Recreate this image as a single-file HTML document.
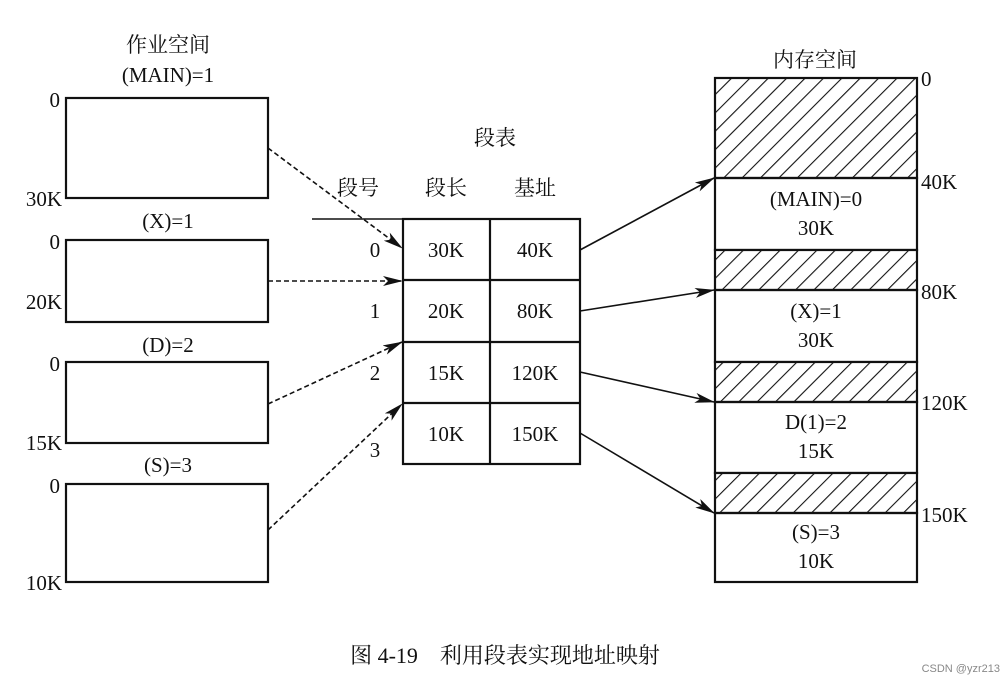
<!DOCTYPE html>
<html><head><meta charset="utf-8"><style>
html,body{margin:0;padding:0;background:#fff}
svg text{font-family:"Liberation Serif","Noto Serif CJK SC",serif;fill:#111}
</style></head><body>
<svg width="1008" height="686" viewBox="0 0 1008 686" xmlns="http://www.w3.org/2000/svg">
<defs>
<pattern id="h" width="13" height="13" patternUnits="userSpaceOnUse" patternTransform="rotate(45)">
<rect width="13" height="13" fill="#fff"/><line x1="0" y1="0" x2="0" y2="13" stroke="#111" stroke-width="2.2"/>
</pattern>
<marker id="a" markerWidth="20" markerHeight="10" refX="19" refY="5" orient="auto" markerUnits="userSpaceOnUse">
<path d="M0,0 L20,5 L0,10 L5,5 Z" fill="#111"/></marker>
</defs>
<g stroke="#111" stroke-width="2.2" fill="none">
<rect x="66" y="98" width="202" height="100"/>
<rect x="66" y="240" width="202" height="82"/>
<rect x="66" y="362" width="202" height="81"/>
<rect x="66" y="484" width="202" height="98"/>
<rect x="403" y="219" width="177" height="245"/>
<line x1="490" y1="219" x2="490" y2="464"/>
<line x1="403" y1="280" x2="580" y2="280"/>
<line x1="403" y1="342" x2="580" y2="342"/>
<line x1="403" y1="403" x2="580" y2="403"/>
<line x1="312" y1="219" x2="403" y2="219" stroke-width="1.5"/>
<rect x="715" y="78" width="202" height="100" fill="url(#h)"/>
<rect x="715" y="178" width="202" height="72"/>
<rect x="715" y="250" width="202" height="40" fill="url(#h)"/>
<rect x="715" y="290" width="202" height="72"/>
<rect x="715" y="362" width="202" height="40" fill="url(#h)"/>
<rect x="715" y="402" width="202" height="71"/>
<rect x="715" y="473" width="202" height="40" fill="url(#h)"/>
<rect x="715" y="513" width="202" height="69"/>
</g>
<g stroke="#111" stroke-width="1.6" stroke-dasharray="5,3" fill="none">
<line x1="268" y1="148" x2="402" y2="248" marker-end="url(#a)"/>
<line x1="268" y1="281" x2="402" y2="281" marker-end="url(#a)"/>
<line x1="268" y1="404" x2="402" y2="342" marker-end="url(#a)"/>
<line x1="268" y1="530" x2="402" y2="404" marker-end="url(#a)"/>
</g>
<g stroke="#111" stroke-width="1.6" fill="none">
<line x1="580" y1="250" x2="714" y2="178" marker-end="url(#a)"/>
<line x1="580" y1="311" x2="714" y2="290" marker-end="url(#a)"/>
<line x1="580" y1="372" x2="714" y2="402" marker-end="url(#a)"/>
<line x1="580" y1="433" x2="714" y2="513" marker-end="url(#a)"/>
</g>
<g font-size="21" text-anchor="middle">
<text x="168" y="52">作业空间</text>
<text x="168" y="82">(MAIN)=1</text>
<text x="168" y="228">(X)=1</text>
<text x="168" y="352">(D)=2</text>
<text x="168" y="472">(S)=3</text>
<text x="495" y="145">段表</text>
<text x="358" y="195">段号</text>
<text x="446" y="195">段长</text>
<text x="535" y="195">基址</text>
<text x="375" y="257">0</text>
<text x="375" y="318">1</text>
<text x="375" y="380">2</text>
<text x="375" y="457">3</text>
<text x="446" y="257">30K</text><text x="535" y="257">40K</text>
<text x="446" y="318">20K</text><text x="535" y="318">80K</text>
<text x="446" y="380">15K</text><text x="535" y="380">120K</text>
<text x="446" y="441">10K</text><text x="535" y="441">150K</text>
<text x="815" y="67">内存空间</text>
<text x="816" y="206">(MAIN)=0</text><text x="816" y="235">30K</text>
<text x="816" y="318">(X)=1</text><text x="816" y="347">30K</text>
<text x="816" y="429">D(1)=2</text><text x="816" y="458">15K</text>
<text x="816" y="539">(S)=3</text><text x="816" y="568">10K</text>
</g>
<g font-size="21" text-anchor="end">
<text x="60" y="107">0</text><text x="62" y="206">30K</text>
<text x="60" y="249">0</text><text x="62" y="309">20K</text>
<text x="60" y="371">0</text><text x="62" y="450">15K</text>
<text x="60" y="493">0</text><text x="62" y="590">10K</text>
</g>
<g font-size="21">
<text x="921" y="86">0</text>
<text x="921" y="189">40K</text>
<text x="921" y="299">80K</text>
<text x="921" y="410">120K</text>
<text x="921" y="522">150K</text>
</g>
<text x="505" y="663" font-size="22" text-anchor="middle">图 4-19　利用段表实现地址映射</text>
<text x="1000" y="672" font-size="11" text-anchor="end" style="font-family:'Liberation Sans',sans-serif;fill:#888">CSDN @yzr213</text>
</svg>
</body></html>
